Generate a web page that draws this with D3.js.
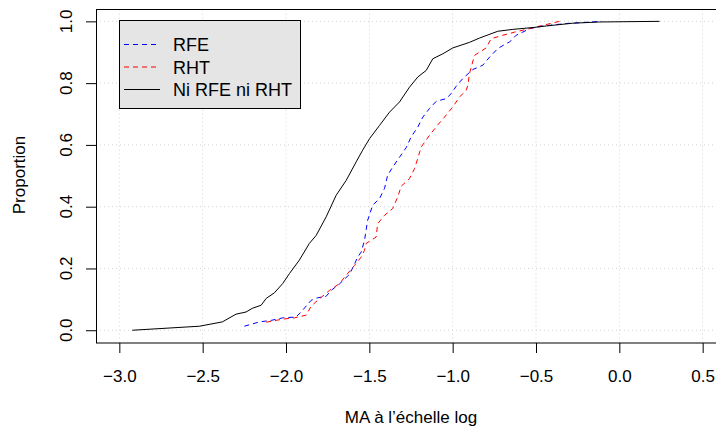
<!DOCTYPE html>
<html><head><meta charset="utf-8">
<script src="https://cdn.jsdelivr.net/npm/d3@7"></script>
<style>body{margin:0;background:#fff}svg{display:block}text{font-family:"Liberation Sans",Arial,sans-serif;fill:#000}</style>
</head><body><svg id="c" width="716" height="435"></svg>
<script>
// ---- data ----
const xTicks = [-3.0, -2.5, -2.0, -1.5, -1.0, -0.5, 0.0, 0.5];
const yTicks = [0.0, 0.2, 0.4, 0.6, 0.8, 1.0];
const seriesNames = ["RFE", "RHT", "Ni RFE ni RHT"];
const rfeX = [-2.250,-2.160,-2.089,-2.020,-1.939,-1.900,-1.849,-1.810,-1.759,-1.729,-1.679,-1.619,-1.589,-1.570,-1.549,-1.529,-1.510,-1.480,-1.439,-1.409,-1.390,-1.360,-1.319,-1.279,-1.249,-1.209,-1.179,-1.139,-1.099,-1.039,-1.009,-0.979,-0.939,-0.879,-0.819,-0.779,-0.729,-0.679,-0.659,-0.619,-0.599,-0.539,-0.459,-0.319,-0.107];
const rfeP = [0.013,0.027,0.032,0.040,0.043,0.065,0.097,0.105,0.110,0.129,0.150,0.181,0.214,0.237,0.253,0.291,0.356,0.405,0.426,0.459,0.502,0.528,0.560,0.591,0.626,0.658,0.690,0.718,0.741,0.750,0.766,0.790,0.815,0.844,0.858,0.884,0.912,0.928,0.933,0.955,0.960,0.976,0.985,0.993,1.000];
const rhtX = [-2.119,-2.020,-1.950,-1.879,-1.849,-1.810,-1.739,-1.679,-1.639,-1.589,-1.549,-1.529,-1.519,-1.459,-1.450,-1.409,-1.360,-1.330,-1.309,-1.259,-1.229,-1.209,-1.189,-1.139,-1.089,-1.049,-0.999,-0.959,-0.919,-0.909,-0.899,-0.869,-0.799,-0.769,-0.699,-0.629,-0.559,-0.499,-0.359];
const rhtP = [0.026,0.036,0.040,0.049,0.078,0.097,0.129,0.151,0.178,0.210,0.237,0.259,0.281,0.302,0.345,0.372,0.394,0.431,0.466,0.491,0.523,0.557,0.593,0.631,0.665,0.690,0.723,0.755,0.777,0.793,0.831,0.890,0.914,0.944,0.955,0.965,0.974,0.982,1.000];
const niX = [-2.922,-2.520,-2.382,-2.300,-2.240,-2.202,-2.149,-2.119,-2.070,-2.020,-1.980,-1.920,-1.860,-1.819,-1.759,-1.699,-1.639,-1.579,-1.540,-1.499,-1.439,-1.379,-1.319,-1.259,-1.209,-1.159,-1.119,-1.059,-0.999,-0.899,-0.839,-0.729,-0.639,-0.499,-0.439,-0.279,-0.119,0.241];
const niP = [0.000,0.013,0.027,0.052,0.059,0.071,0.081,0.103,0.121,0.151,0.183,0.227,0.281,0.307,0.367,0.437,0.485,0.545,0.583,0.620,0.663,0.706,0.739,0.787,0.820,0.841,0.879,0.895,0.914,0.932,0.946,0.968,0.974,0.981,0.985,0.994,0.998,1.000];

const svg = d3.select("#c");
const x = d3.scaleLinear().domain([-3.14, 0.64]).range([96, 726]);
const y = d3.scaleLinear().domain([-0.04, 1.04]).range([342.6, 9]);
const fmt = d => d3.format(".1f")(d).replace("-", "\u2212");
const FS = 17, LFS = 18;

// grid
const g = svg.append("g");
g.selectAll("line.v").data(xTicks).join("line")
  .attr("x1", d => x(d)).attr("x2", d => x(d)).attr("y1", y.range()[0]).attr("y2", y.range()[1])
  .attr("stroke", "#d3d3d3").attr("stroke-dasharray", "1,3");
g.selectAll("line.h").data(yTicks).join("line")
  .attr("y1", d => y(d)).attr("y2", d => y(d)).attr("x1", x.range()[0]).attr("x2", x.range()[1])
  .attr("stroke", "#d3d3d3").attr("stroke-dasharray", "1,3");

// lines
const series = [
  {name: seriesNames[0], xs: rfeX, ps: rfeP, color: "#0000ff", dash: "5,4"},
  {name: seriesNames[1], xs: rhtX, ps: rhtP, color: "#ff0000", dash: "5,4"},
  {name: seriesNames[2], xs: niX, ps: niP, color: "#000000", dash: null}
];
const line = d3.line().x(d => x(d[0])).y(d => y(d[1]));
series.forEach(s => {
  svg.append("path").datum(s.xs.map((v, i) => [v, s.ps[i]]))
    .attr("d", line).attr("fill", "none").attr("stroke", s.color)
    .attr("stroke-width", 1).attr("stroke-dasharray", s.dash);
});

// box
svg.append("rect").attr("x", 96.5).attr("y", 9.5).attr("width", 640).attr("height", 333.5)
  .attr("fill", "none").attr("stroke", "#000");

// axes
const xa = svg.append("g").attr("transform", "translate(0,343)")
  .call(d3.axisBottom(x).tickValues(xTicks).tickFormat(fmt).tickSize(10).tickPadding(17));
xa.select(".domain").remove();
xa.selectAll("text").attr("font-size", FS).attr("font-family", "Liberation Sans, Arial, sans-serif");
const ya = svg.append("g").attr("transform", "translate(96,0)")
  .call(d3.axisLeft(y).tickValues(yTicks).tickFormat(fmt).tickSize(10));
ya.select(".domain").remove();
ya.selectAll("text").attr("font-size", FS).attr("font-family", "Liberation Sans, Arial, sans-serif")
  .attr("transform", d => `rotate(-90,${-24},${y(d)})`)
  .attr("x", -24).attr("y", d => y(d)).attr("dy", "0").attr("text-anchor", "middle")
  .attr("dominant-baseline", "auto");
ya.selectAll(".tick").attr("transform", null);
ya.selectAll(".tick line").attr("y1", d => y(d) + 0.5).attr("y2", d => y(d) + 0.5);

// axis titles
svg.append("text").attr("x", 411).attr("y", 423).attr("text-anchor", "middle")
  .attr("font-size", FS).text("MA à l\u2019échelle log");
svg.append("text").attr("transform", "translate(25,175) rotate(-90)").attr("text-anchor", "middle")
  .attr("font-size", FS).text("Proportion");

// legend
const lg = svg.append("g");
lg.append("rect").attr("x", 119.5).attr("y", 20.5).attr("width", 181).attr("height", 88)
  .attr("fill", "#e5e5e5").attr("stroke", "#000");
series.forEach((s, i) => {
  const yy = 44.5 + i * 22.5;
  lg.append("line").attr("x1", 124).attr("x2", 160).attr("y1", yy).attr("y2", yy)
    .attr("stroke", s.color).attr("stroke-dasharray", s.dash);
  lg.append("text").attr("x", 173).attr("y", yy + 6.5).attr("font-size", LFS).text(s.name);
});
</script></body></html>
